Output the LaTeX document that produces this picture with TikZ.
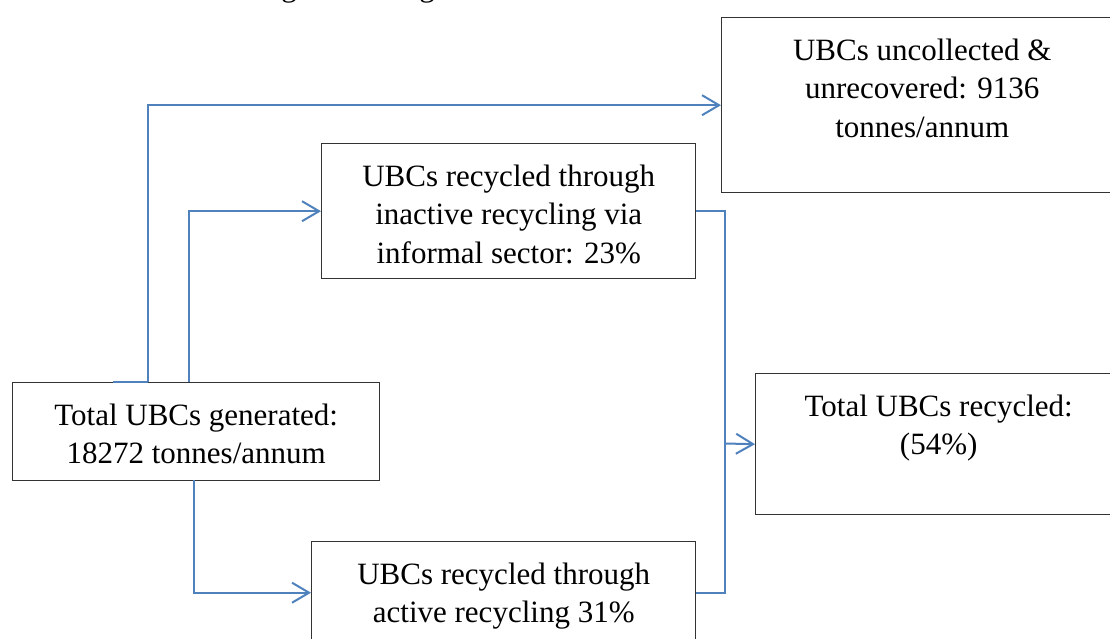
\documentclass[tikz,border=0pt]{standalone}
\usepackage{fontspec}
\setmainfont{Liberation Serif}
\usetikzlibrary{arrows.meta}

\definecolor{flowblue}{HTML}{4F81BD}
\definecolor{boxline}{HTML}{333333}

\tikzset{
  stagebox/.style={draw=boxline, line width=1.4pt, anchor=north west, inner sep=0pt},
  txt/.style={font=\fontsize{31}{38.5}\selectfont, align=center, inner sep=0pt, anchor=north},
  flow/.style={draw=flowblue, line width=2pt},
  flowarrow/.style={flow, -{Straight Barb[length=17pt, width=20pt, line width=2pt]}},
}

\begin{document}
\begin{tikzpicture}[x=1pt, y=-1pt]
\useasboundingbox (0,0) rectangle (1110,639);

% fragments of the caption line above the chart
\node[txt, anchor=base] (capg1) at (289,-3) {g};
\node[txt, anchor=base] (capg2) at (427,-3) {g};

% boxes
\node[stagebox, minimum width=367pt, minimum height=98pt]  (gen)   at (12,382)  {};
\node[stagebox, minimum width=401pt, minimum height=175pt] (uncol) at (721,17)  {};
\node[stagebox, minimum width=374pt, minimum height=135pt] (inact) at (321,143) {};
\node[stagebox, minimum width=366pt, minimum height=141pt] (recyc) at (755,373) {};
\node[stagebox, minimum width=384pt, minimum height=102pt] (act)   at (311,541) {};

% box texts
\node[txt] (gen-t)   at ([yshift=-16pt]gen.north)   {\strut Total UBCs generated:\\\strut 18272 tonnes/annum};
\node[txt] (uncol-t) at ([yshift=-16pt]uncol.north) {\strut UBCs uncollected \&\\\strut unrecovered: 9136\\\strut tonnes/annum};
\node[txt] (inact-t) at ([yshift=-16pt]inact.north) {\strut UBCs recycled through\\\strut inactive recycling via\\\strut informal sector: 23\%};
\node[txt] (recyc-t) at ([yshift=-16pt]recyc.north) {\strut Total UBCs recycled:\\\strut (54\%)};
\node[txt] (act-t)   at ([yshift=-16pt]act.north)   {\strut UBCs recycled through\\\strut active recycling 31\%};

% junction points
\coordinate (j1) at (113,382);
\coordinate (j2) at (148,382);
\coordinate (j3) at (189,382);
\coordinate (j4) at (194,480);
\coordinate (bus) at (725,443.5);

% connectors
\draw[flow] (j1) -- (j2);
\draw[flowarrow] (j2) |- (uncol.west);
\draw[flowarrow] (j3) |- (inact.west);
\draw[flowarrow] (j4) |- (act.west);
\draw[flow] (inact.east) -| (bus);
\draw[flow] (act.east) -| (bus);
\draw[flowarrow] (bus) -- (recyc.west);
\end{tikzpicture}
\end{document}
